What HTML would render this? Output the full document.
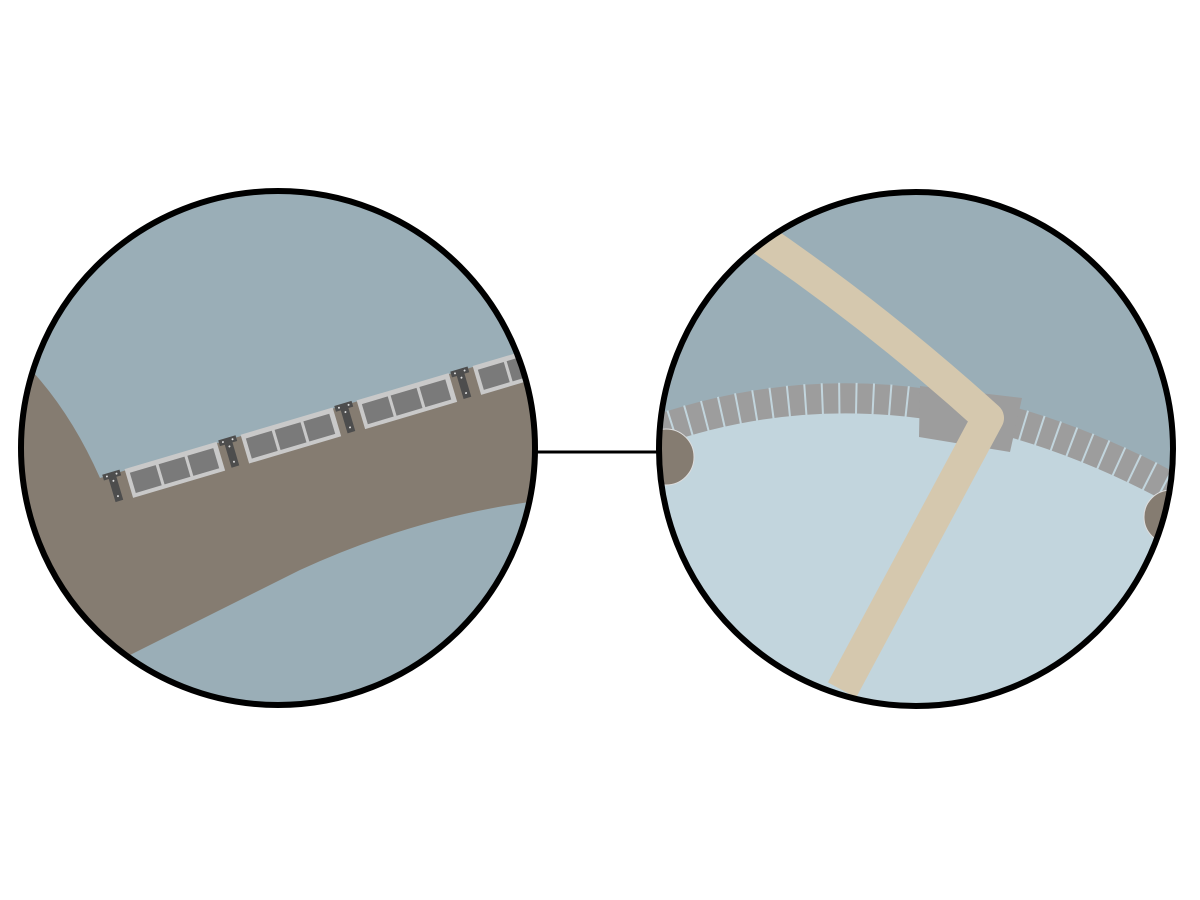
<!DOCTYPE html>
<html><head><meta charset="utf-8"><style>html,body{margin:0;padding:0;background:#fff}svg{display:block}</style></head>
<body>
<svg width="1200" height="900" viewBox="0 0 1200 900" xmlns="http://www.w3.org/2000/svg">
<defs>
<clipPath id="cl"><circle cx="278" cy="448" r="257"/></clipPath>
<clipPath id="cr"><circle cx="916" cy="449" r="257"/></clipPath>
<g id="br">
<path d="M-9,-4 h18 v6 h-5 v24 h-8 v-24 h-5 z" fill="#4d4d4d"/>
<circle cx="-5" cy="-1" r="1" fill="#ddd"/><circle cx="5" cy="-1" r="1" fill="#ddd"/><circle cx="0" cy="5" r="1" fill="#ddd"/><circle cx="0" cy="21" r="1" fill="#ddd"/>
</g>
<g id="pn">
<rect x="0" y="-3" width="96" height="30" fill="#c9c9c9"/>
<rect x="4" y="2" width="27" height="21" fill="#7a7a7a"/>
<rect x="34" y="2" width="27" height="21" fill="#7a7a7a"/>
<rect x="64" y="2" width="27" height="21" fill="#7a7a7a"/>
</g>
</defs>
<line x1="537" y1="452" x2="658" y2="452" stroke="#000" stroke-width="3"/>
<g clip-path="url(#cl)">
<rect x="0" y="150" width="560" height="600" fill="#9aaeb7"/>
<path d="M33,372 Q72,415 100,478 L530,350 L545,500 Q420,515 300,570 Q200,620 128,656 L0,720 L0,372 Z" fill="#857c71"/>
<g transform="translate(112,476) rotate(-16.5)">
<use href="#br" x="0" y="0"/>
<use href="#pn" x="14" y="0"/>
<use href="#br" x="121" y="0"/>
<use href="#pn" x="135" y="0"/>
<use href="#br" x="242" y="0"/>
<use href="#pn" x="256" y="0"/>
<use href="#br" x="363" y="0"/>
<use href="#pn" x="377" y="0"/>
</g>
</g>
<circle cx="278" cy="448" r="257" fill="none" stroke="#000" stroke-width="6"/>
<g clip-path="url(#cr)">
<rect x="650" y="180" width="540" height="540" fill="#9aaeb7"/>
<path d="M640,433 Q910,342 1190,498 L1200,900 L640,900 Z" fill="#c2d5dd"/>
<path d="M655,431 Q910,342 1185,495" fill="none" stroke="#9d9d9d" stroke-width="30"/>
<path d="M655,431 Q910,342 1185,495" fill="none" stroke="#c2d5dd" stroke-width="31" stroke-dasharray="2 15"/>
<polygon points="920,386 1022,398 1010,452 919,437" fill="#9d9d9d"/>
<path d="M760,238 Q880,320 988,418 L842,690" fill="none" stroke="#d5c8ae" stroke-width="32" stroke-linejoin="round"/>
<circle cx="666" cy="457" r="28" fill="#857c71" stroke="#ddd" stroke-width="1"/>
<circle cx="1171" cy="517" r="27" fill="#857c71" stroke="#ddd" stroke-width="1"/>
</g>
<circle cx="916" cy="449" r="257" fill="none" stroke="#000" stroke-width="6"/>
</svg>
</body></html>
